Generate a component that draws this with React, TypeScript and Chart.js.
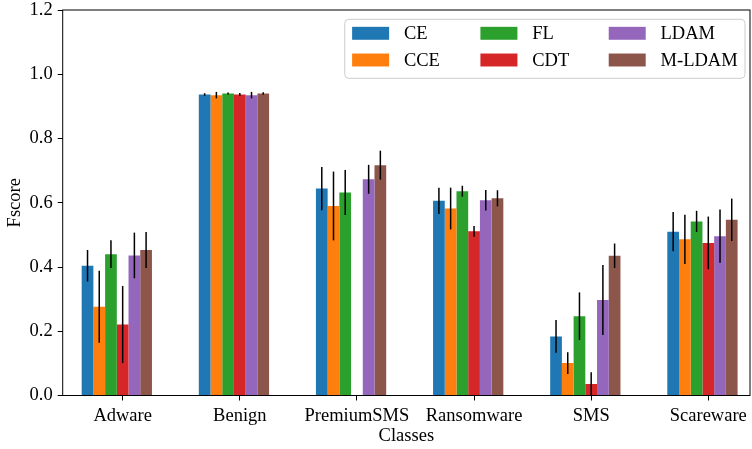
import { useEffect, useRef } from 'react';
import { Chart, registerables } from 'chart.js';

Chart.register(...registerables);

// Per-class F-scores (mean) and their standard deviations for each loss.
const classes = ['Adware', 'Benign', 'PremiumSMS', 'Ransomware', 'SMS', 'Scareware'];
const methods = ['CE', 'CCE', 'FL', 'CDT', 'LDAM', 'M-LDAM'];
const colors = ['#1f77b4', '#ff7f0e', '#2ca02c', '#d62728', '#9467bd', '#8c564b'];

const ceScores = [0.404, 0.937, 0.644, 0.606, 0.184, 0.510];
const ceErr = [0.049, 0.004, 0.067, 0.041, 0.051, 0.061];
const cceScores = [0.276, 0.935, 0.590, 0.582, 0.101, 0.486];
const cceErr = [0.112, 0.010, 0.107, 0.065, 0.034, 0.077];
const flScores = [0.440, 0.940, 0.632, 0.636, 0.247, 0.542];
const flErr = [0.043, 0.003, 0.070, 0.017, 0.074, 0.033];
const cdtScores = [0.221, 0.937, 0.0, 0.511, 0.036, 0.475];
const cdtErr = [0.120, 0.005, 0.0, 0.017, 0.036, 0.082];
const ldamScores = [0.436, 0.935, 0.673, 0.608, 0.297, 0.496];
const ldamErr = [0.071, 0.010, 0.045, 0.032, 0.109, 0.083];
const mldamScores = [0.453, 0.940, 0.717, 0.614, 0.435, 0.547];
const mldamErr = [0.056, 0.004, 0.045, 0.025, 0.038, 0.066];

const yTicks = [0.0, 0.2, 0.4, 0.6, 0.8, 1.0, 1.2];

const scores = [ceScores, cceScores, flScores, cdtScores, ldamScores, mldamScores];
const errors = [ceErr, cceErr, flErr, cdtErr, ldamErr, mldamErr];

const FONT = "'Liberation Serif', 'Times New Roman', serif";
const FONT_SIZE = 18.5;

// Vertical error bars at the centre of each bar.
const errorBars = {
  id: 'errorBars',
  afterDatasetsDraw(chart: any) {
    const { ctx, scales } = chart;
    const y = scales.y;
    ctx.save();
    ctx.strokeStyle = '#000';
    ctx.lineWidth = 1.5;
    methods.forEach((_, d) => {
      const meta = chart.getDatasetMeta(d);
      meta.data.forEach((bar: any, i: number) => {
        const v = scores[d][i];
        const e = errors[d][i];
        if (!e) return;
        ctx.beginPath();
        ctx.moveTo(bar.x, y.getPixelForValue(v - e));
        ctx.lineTo(bar.x, y.getPixelForValue(v + e));
        ctx.stroke();
      });
    });
    ctx.restore();
  },
};

// Box frame around the plot area plus a three-column legend (column-major order).
const frameAndLegend = {
  id: 'frameAndLegend',
  afterDraw(chart: any) {
    const { ctx, chartArea } = chart;
    const { left, top, right, bottom } = chartArea;
    ctx.save();
    ctx.strokeStyle = '#000';
    ctx.lineWidth = 1;
    ctx.strokeRect(left, top, right - left, bottom - top);

    ctx.font = `${FONT_SIZE}px ${FONT}`;
    const handleLen = 2.0 * FONT_SIZE;
    const handleH = 0.7 * FONT_SIZE;
    const textPad = 0.8 * FONT_SIZE;
    const colPitch = 128.3;
    const borderPad = 0.4 * FONT_SIZE;
    const rowGap = 26.7;
    const nCols = 3;
    const nRows = 2;

    let lastW = 0;
    for (let r = 0; r < nRows; r++) {
      lastW = Math.max(lastW, ctx.measureText(methods[(nCols - 1) * nRows + r]).width);
    }
    const boxW = colPitch * (nCols - 1) + handleLen + textPad + lastW + 2 * borderPad;
    const boxH = 59;
    const boxRight = right - 5;
    const boxTop = top + 9.3;
    const boxLeft = boxRight - boxW;

    ctx.beginPath();
    ctx.roundRect(boxLeft, boxTop, boxW, boxH, 4);
    ctx.fillStyle = 'rgba(255,255,255,0.8)';
    ctx.fill();
    ctx.strokeStyle = '#cccccc';
    ctx.stroke();

    ctx.textBaseline = 'middle';
    ctx.textAlign = 'left';
    for (let c = 0; c < nCols; c++) {
      const x = boxLeft + borderPad + c * colPitch;
      for (let r = 0; r < nRows; r++) {
        const k = c * nRows + r;
        const cy = boxTop + 14 + r * rowGap;
        ctx.fillStyle = colors[k];
        ctx.fillRect(x, cy - handleH / 2, handleLen, handleH);
        ctx.fillStyle = '#000';
        ctx.fillText(methods[k], x + handleLen + textPad, cy + 1);
      }
    }
    ctx.restore();
  },
};

export default function App() {
  const canvasRef = useRef<HTMLCanvasElement>(null);

  useEffect(() => {
    const canvas = canvasRef.current;
    if (!canvas) return;

    const datasets: any[] = methods.map((m, d) => ({
      label: m,
      data: classes.map((_, i) => ({ x: i, y: scores[d][i] })),
      backgroundColor: colors[d],
      borderWidth: 0,
      categoryPercentage: 0.7,
      barPercentage: 1.0,
    }));
    // Empty slot so that the group of bars sits with CDT on the tick.
    datasets.push({
      label: '',
      data: classes.map((_, i) => ({ x: i, y: null })),
      backgroundColor: 'rgba(0,0,0,0)',
      borderWidth: 0,
      categoryPercentage: 0.7,
      barPercentage: 1.0,
    });

    const chart = new Chart(canvas, {
      type: 'bar',
      data: { datasets },
      options: {
        responsive: false,
        animation: false,
        devicePixelRatio: 1,
        layout: { padding: { top: 10, right: 2, left: 0, bottom: 0 } },
        plugins: {
          legend: { display: false },
          tooltip: { enabled: false },
        },
        scales: {
          x: {
            type: 'linear',
            offset: false,
            min: -0.512,
            max: 5.356,
            afterBuildTicks: (scale: any) => {
              scale.ticks = classes.map((_, i) => ({ value: i }));
            },
            afterFit: (scale: any) => {
              scale.height = 53.5;
              scale.paddingLeft = 0;
              scale.paddingRight = 0;
            },
            ticks: {
              autoSkip: false,
              maxRotation: 0,
              padding: 5,
              color: '#000',
              font: { family: FONT, size: FONT_SIZE },
              callback: (v: any) => classes[Math.round(Number(v))] ?? '',
            },
            grid: {
              display: true,
              offset: false,
              drawOnChartArea: false,
              drawTicks: true,
              tickLength: 5,
              color: '#000',
              lineWidth: 1,
            },
            border: { display: false },
            title: {
              display: true,
              text: 'Classes',
              color: '#000',
              font: { family: FONT, size: FONT_SIZE },
              padding: { top: 0, bottom: 2 },
            },
          },
          y: {
            min: 0,
            max: 1.2,
            afterBuildTicks: (scale: any) => {
              scale.ticks = yTicks.map((v) => ({ value: v }));
            },
            afterFit: (scale: any) => {
              scale.width = 62.7;
              scale.paddingTop = 0;
              scale.paddingBottom = 0;
            },
            ticks: {
              padding: 5,
              color: '#000',
              font: { family: FONT, size: FONT_SIZE },
              callback: (v: any) => Number(v).toFixed(1),
            },
            grid: {
              display: true,
              offset: false,
              drawOnChartArea: false,
              drawTicks: true,
              tickLength: 5,
              color: '#000',
              lineWidth: 1,
            },
            border: { display: false },
            title: {
              display: true,
              text: 'Fscore',
              color: '#000',
              font: { family: FONT, size: FONT_SIZE },
              padding: { top: 4, bottom: 0 },
            },
          },
        },
      },
      plugins: [errorBars, frameAndLegend],
    });

    return () => chart.destroy();
  }, []);

  return (
    <div style={{ position: 'absolute', left: 0, top: 0, width: 752, height: 449, background: '#fff' }}>
      <canvas ref={canvasRef} width={752} height={449} style={{ display: 'block', width: 752, height: 449 }} />
    </div>
  );
}
